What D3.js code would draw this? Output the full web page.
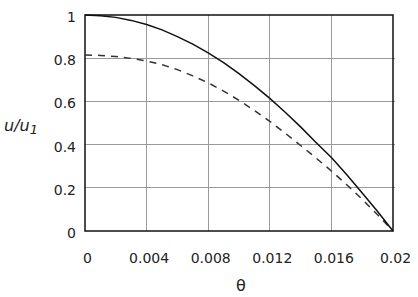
<!DOCTYPE html>
<html>
<head>
<meta charset="utf-8">
<script src="https://cdn.jsdelivr.net/npm/d3@7"></script>
<style>
  body { margin: 0; background: #fff; }
  text { font-family: "DejaVu Sans", Verdana, sans-serif; fill: #222; }
</style>
</head>
<body>
<svg id="chart"></svg>
<script>
// theta values (x) and the two curves
var theta = [0, 0.001, 0.002, 0.003, 0.004, 0.005, 0.006, 0.007, 0.008, 0.009, 0.010,
             0.011, 0.012, 0.013, 0.014, 0.015, 0.016, 0.017, 0.018, 0.019, 0.020];
var solidU = [1.000, 0.997, 0.989, 0.975, 0.956, 0.931, 0.900, 0.865, 0.825, 0.779, 0.729,
              0.673, 0.614, 0.550, 0.482, 0.410, 0.340, 0.260, 0.176, 0.090, 0.000];
var dashedU = [0.815, 0.813, 0.808, 0.799, 0.787, 0.770, 0.747, 0.718, 0.686, 0.648, 0.605,
               0.558, 0.508, 0.453, 0.396, 0.338, 0.278, 0.214, 0.147, 0.075, 0.000];
var xTicks = [0, 0.004, 0.008, 0.012, 0.016, 0.02];
var xTickLabels = ["0", "0.004", "0.008", "0.012", "0.016", "0.02"];
var yTicks = [0, 0.2, 0.4, 0.6, 0.8, 1];
var yTickLabels = ["0", "0.2", "0.4", "0.6", "0.8", "1"];

var width = 418, height = 297;
var margin = {left: 85, right: 25, top: 15, bottom: 66};

var svg = d3.select("#chart").attr("width", width).attr("height", height);

var x = d3.scaleLinear().domain([0, 0.02]).range([margin.left, width - margin.right]);
var y = d3.scaleLinear().domain([0, 1]).range([height - margin.bottom, margin.top]);

// grid lines
var grid = svg.append("g").attr("class", "grid");
grid.selectAll("line.v")
    .data(xTicks.slice(1, -1))
    .enter().append("line")
    .attr("x1", d => x(d)).attr("x2", d => x(d))
    .attr("y1", y(0)).attr("y2", y(1))
    .attr("stroke", "#9a9a9a").attr("stroke-width", 1).attr("shape-rendering", "crispEdges");
grid.selectAll("line.h")
    .data(yTicks.slice(1, -1))
    .enter().append("line")
    .attr("x1", x(0)).attr("x2", x(0.02) + 2)
    .attr("y1", d => y(d)).attr("y2", d => y(d))
    .attr("stroke", "#9a9a9a").attr("stroke-width", 1).attr("shape-rendering", "crispEdges");

// frame
svg.append("rect")
    .attr("x", x(0)).attr("y", y(1))
    .attr("width", x(0.02) - x(0)).attr("height", y(0) - y(1))
    .attr("fill", "none").attr("stroke", "#111").attr("stroke-width", 1.5);

// axes (labels only, the frame draws the lines)
var xAxis = d3.axisBottom(x).tickValues(xTicks).tickSize(0).tickPadding(0)
    .tickFormat((d, i) => xTickLabels[i]);
var gx = svg.append("g").attr("transform", "translate(2," + (y(0) + 22) + ")").call(xAxis);
gx.select(".domain").remove();
gx.selectAll("text").attr("font-size", 14).attr("font-family", "DejaVu Sans, sans-serif").attr("fill", "#222");

var yAxis = d3.axisLeft(y).tickValues(yTicks).tickSize(0).tickPadding(0)
    .tickFormat((d, i) => yTickLabels[i]);
var gy = svg.append("g").attr("transform", "translate(" + (x(0) - 9) + ",2)").call(yAxis);
gy.select(".domain").remove();
gy.selectAll("text").attr("font-size", 14).attr("font-family", "DejaVu Sans, sans-serif").attr("fill", "#222");

// curves
var line = d3.line().x(d => x(d[0])).y(d => y(d[1]));

svg.append("path")
    .datum(d3.zip(theta, dashedU))
    .attr("d", line)
    .attr("fill", "none").attr("stroke", "#333").attr("stroke-width", 1.5)
    .attr("stroke-dasharray", "7,6");

svg.append("path")
    .datum(d3.zip(theta, solidU))
    .attr("d", line)
    .attr("fill", "none").attr("stroke", "#111").attr("stroke-width", 1.5);

// axis titles
svg.append("text")
    .attr("x", (x(0) + x(0.02)) / 2 + 2).attr("y", 291)
    .attr("text-anchor", "middle").attr("font-size", 16)
    .text("θ");

var yt = svg.append("text")
    .attr("x", 4).attr("y", 131)
    .attr("font-size", 16).attr("font-style", "italic").attr("fill", "#1a1a3a");
yt.append("tspan").text("u/u");
yt.append("tspan").attr("dy", 3).attr("font-size", 13).text("1");
</script>
</body>
</html>
